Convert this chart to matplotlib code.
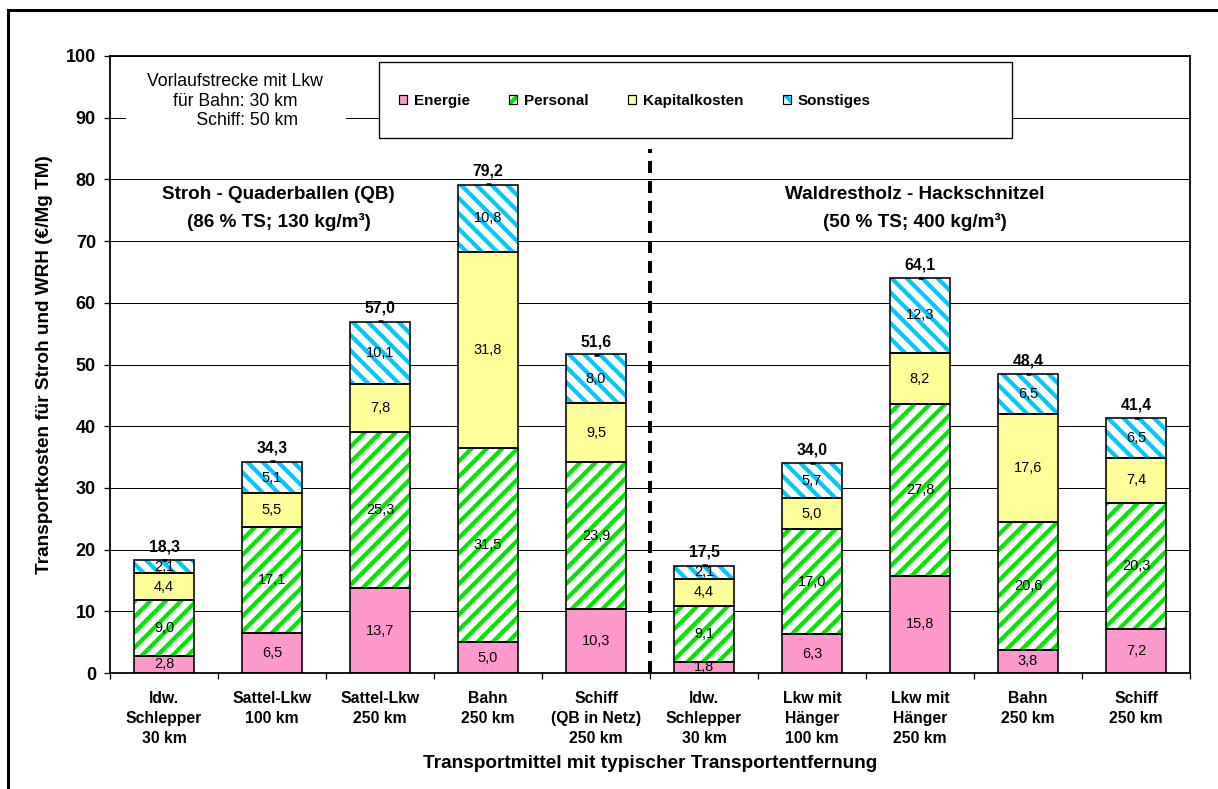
import matplotlib
matplotlib.use("Agg")
import matplotlib.pyplot as plt
from matplotlib.patches import Rectangle, Patch
from matplotlib.lines import Line2D
from matplotlib.legend_handler import HandlerTuple
import numpy as np

# ---------------- data ----------------
categories = ["ldw.\nSchlepper\n30 km", "Sattel-Lkw\n100 km", "Sattel-Lkw\n250 km",
              "Bahn\n250 km", "Schiff\n(QB in Netz)\n250 km", "ldw.\nSchlepper\n30 km",
              "Lkw mit\nHänger\n100 km", "Lkw mit\nHänger\n250 km", "Bahn\n250 km",
              "Schiff\n250 km"]
energie = [2.8, 6.5, 13.7, 5.0, 10.3, 1.8, 6.3, 15.8, 3.8, 7.2]
personal = [9.0, 17.1, 25.3, 31.5, 23.9, 9.1, 17.0, 27.8, 20.6, 20.3]
kapitalkosten = [4.4, 5.5, 7.8, 31.8, 9.5, 4.4, 5.0, 8.2, 17.6, 7.4]
sonstiges = [2.1, 5.1, 10.1, 10.8, 8.0, 2.1, 5.7, 12.3, 6.5, 6.5]
totals = [18.3, 34.3, 57.0, 79.2, 51.6, 17.5, 34.0, 64.1, 48.4, 41.4]
series_names = ["Energie", "Personal", "Kapitalkosten", "Sonstiges"]
yticks = list(range(0, 101, 10))

# ---------------- setup ----------------
DPI = 138
W, H = 1218, 789
P = 72.0 / DPI


def pt(v):
    return v * P


plt.rcParams["font.family"] = ["Liberation Sans", "DejaVu Sans"]
plt.rcParams["hatch.linewidth"] = pt(4.2)
plt.rcParams["lines.scale_dashes"] = False


def fmt(v):
    return f"{v:.1f}".replace(".", ",")


styles = [
    dict(face="#FF99CC", hatch=None, hc=None),
    dict(face="white", hatch="///", hc="#00E600"),
    dict(face="#FFFF99", hatch=None, hc=None),
    dict(face="white", hatch="\\\\\\", hc="#00C8FF"),
]

fig = plt.figure(figsize=(W / DPI, H / DPI), dpi=DPI)
ax = fig.add_axes([110 / W, 1 - 673 / H, 1080 / W, 617 / H])

x = np.arange(len(categories))
bw = 0.55
bottom = np.zeros(len(categories))
for vals, st in zip([energie, personal, kapitalkosten, sonstiges], styles):
    vals = np.array(vals)
    if st["hatch"]:
        ax.bar(x, vals, bw, bottom, color=st["face"], edgecolor=st["hc"],
               hatch=st["hatch"], linewidth=0, zorder=1)
    else:
        ax.bar(x, vals, bw, bottom, color=st["face"], linewidth=0, zorder=1)
    ax.bar(x, vals, bw, bottom, fill=False, edgecolor="black",
           linewidth=pt(1.6), zorder=1.5)
    for xi, v, b in zip(x, vals, bottom):
        ax.text(xi, b + v / 2, fmt(v), ha="center", va="center",
                fontsize=pt(14.5), zorder=3)
    bottom += vals

# totals
ax.plot(x, totals, ls="none", marker="_", ms=pt(5), mew=pt(2.5), color="k", zorder=3)
for xi, t in zip(x, totals):
    ax.text(xi, t + 2.1, fmt(t), ha="center", va="center", fontweight="bold",
            fontsize=pt(15.8), zorder=3)

# dashed separator
ax.plot([4.5, 4.5], [0, 85], color="k", lw=pt(4), dashes=(pt(12), pt(8)), zorder=2)

# group titles
ax.text(1.06, 77.5, "Stroh - Quaderballen (QB)", ha="center", va="center",
        fontweight="bold", fontsize=pt(18.9), zorder=3)
ax.text(1.06, 73.1, "(86 % TS; 130 kg/m³)", ha="center", va="center",
        fontweight="bold", fontsize=pt(18.9), zorder=3)
ax.text(6.95, 77.5, "Waldrestholz - Hackschnitzel", ha="center", va="center",
        fontweight="bold", fontsize=pt(18.9), zorder=3)
ax.text(6.95, 73.1, "(50 % TS; 400 kg/m³)", ha="center", va="center",
        fontweight="bold", fontsize=pt(18.9), zorder=3)

# axes
ax.set_xlim(-0.5, 9.5)
ax.set_ylim(0, 100)
ax.set_xticks(x)
ax.set_xticklabels(categories, fontweight="bold", fontsize=pt(15.7), linespacing=1.4)
ax.set_xticks(np.arange(-0.5, 10, 1), minor=True)
ax.tick_params(axis="x", which="major", length=0, pad=pt(18))
ax.tick_params(axis="x", which="minor", length=pt(6), width=pt(1.3), direction="out")
ax.set_yticks(yticks)
ax.set_yticklabels([str(v) for v in yticks], fontweight="bold", fontsize=pt(18))
ax.tick_params(axis="y", length=pt(6), width=pt(1.3), pad=pt(8))
ax.yaxis.grid(True, color="black", linewidth=pt(1.0))
ax.set_axisbelow(True)
for s in ax.spines.values():
    s.set_linewidth(pt(1.8))

fig.text(650 / W, 1 - 763 / H, "Transportmittel mit typischer Transportentfernung",
         ha="center", va="center", fontweight="bold", fontsize=pt(19))
fig.text(45 / W, 1 - 365 / H, "Transportkosten für Stroh und WRH (€/Mg TM)",
         ha="center", va="center", rotation=90, fontweight="bold", fontsize=pt(19))

# note box
fig.add_artist(Rectangle((126 / W, 1 - 136 / H), 220 / W, 74 / H, transform=fig.transFigure,
                         facecolor="white", edgecolor="none", zorder=4))
fig.text(235 / W, 1 - 101 / H, "Vorlaufstrecke mit Lkw\nfür Bahn: 30 km\n     Schiff: 50 km",
         ha="center", va="center", multialignment="center", fontsize=pt(17.6),
         linespacing=1.2, zorder=5)

# legend
fig.add_artist(Rectangle((379 / W, 1 - 138 / H), 633 / W, 76 / H, transform=fig.transFigure,
                         facecolor="white", edgecolor="black", lw=pt(1.3), zorder=4))
handles = []
for st in styles:
    if st["hatch"]:
        handles.append((Patch(facecolor=st["face"], edgecolor=st["hc"], hatch=st["hatch"], linewidth=0),
                        Patch(fill=False, edgecolor="black", linewidth=pt(1.2))))
    else:
        handles.append(Patch(facecolor=st["face"], edgecolor="black", linewidth=pt(1.2)))
leg = fig.legend(handles, series_names, loc="center left", bbox_to_anchor=(399 / W, 1 - 101 / H),
                 ncol=4, frameon=False, borderpad=0, borderaxespad=0, handlelength=0.5,
                 handleheight=0.5, handletextpad=0.45, columnspacing=2.6,
                 prop=dict(weight="bold", size=pt(15.3)),
                 handler_map={tuple: HandlerTuple(ndivide=1, pad=0)})
leg.set_zorder(6)

# outer frame
fig.add_artist(Line2D([7.5 / W, 7.5 / W], [0, 1 - 9.5 / H], transform=fig.transFigure,
                      color="k", lw=pt(3)))
fig.add_artist(Line2D([7.5 / W, 1.0], [1 - 9.5 / H, 1 - 9.5 / H], transform=fig.transFigure,
                      color="k", lw=pt(3)))

fig.savefig("out.png", dpi=DPI)
